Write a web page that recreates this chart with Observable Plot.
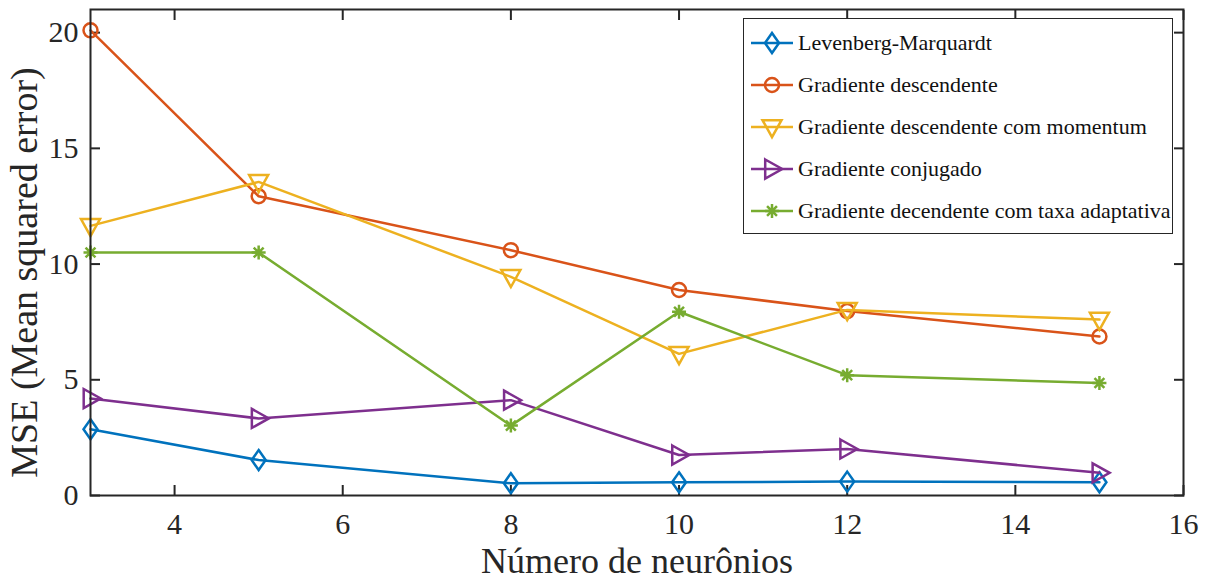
<!DOCTYPE html>
<html>
<head>
<meta charset="utf-8">
<script src="https://cdn.jsdelivr.net/npm/d3@7"></script>
<script src="https://cdn.jsdelivr.net/npm/@observablehq/plot@0.6"></script>
<style>
  html, body { margin: 0; padding: 0; background: #fff; }
  #chart { width: 1208px; height: 583px; }
</style>
</head>
<body>
<div id="chart"></div>
<script>
// ---- data ----
const neurons = [3, 5, 8, 10, 12, 15];
const seriesNames = [
  "Levenberg-Marquardt",
  "Gradiente descendente",
  "Gradiente descendente com momentum",
  "Gradiente conjugado",
  "Gradiente decendente com taxa adaptativa"
];
const mseLM   = [2.86, 1.53, 0.53, 0.57, 0.60, 0.57];
const mseGD   = [20.1, 12.93, 10.6, 8.88, 7.97, 6.87];
const mseGDM  = [11.65, 13.55, 9.45, 6.12, 8.02, 7.6];
const mseCG   = [4.19, 3.33, 4.12, 1.75, 2.01, 0.98];
const mseGDA  = [10.5, 10.5, 3.02, 7.94, 5.2, 4.86];
const xTicks = [4, 6, 8, 10, 12, 14, 16];
const yTicks = [0, 5, 10, 15, 20];

const seriesValues = [mseLM, mseGD, mseGDM, mseCG, mseGDA];
const colors = ["#0072BD", "#D95319", "#EDB120", "#7E2F8E", "#77AC30"];

// ---- marker symbols (MATLAB-like) ----
const R = 7;
const symRadius = size => Math.sqrt(size / Math.PI);
const diamond = {draw(ctx, size) { const s = symRadius(size) / R; const w = 7 * s, h = 10 * s;
  ctx.moveTo(0, -h); ctx.lineTo(w, 0); ctx.lineTo(0, h); ctx.lineTo(-w, 0); ctx.closePath(); }};
const circle = {draw(ctx, size) { const r = symRadius(size);
  ctx.moveTo(r, 0); ctx.arc(0, 0, r, 0, 2 * Math.PI); }};
const triDown = {draw(ctx, size) { const s = symRadius(size) / R; const w = 9.5 * s, h = 8.5 * s;
  ctx.moveTo(-w, -h * 0.8); ctx.lineTo(w, -h * 0.8); ctx.lineTo(0, h * 1.2); ctx.closePath(); }};
const triRight = {draw(ctx, size) { const s = symRadius(size) / R; const w = 8.5 * s, h = 9.5 * s;
  ctx.moveTo(-w * 0.8, -h); ctx.lineTo(w * 1.2, 0); ctx.lineTo(-w * 0.8, h); ctx.closePath(); }};
const asterisk = {draw(ctx, size) { const r = symRadius(size); const d = r * Math.SQRT1_2;
  ctx.moveTo(-r, 0); ctx.lineTo(r, 0); ctx.moveTo(0, -r); ctx.lineTo(0, r);
  ctx.moveTo(-d, -d); ctx.lineTo(d, d); ctx.moveTo(-d, d); ctx.lineTo(d, -d); }};
const symbols = [diamond, circle, triDown, triRight, asterisk];

// long table
const rows = [];
seriesNames.forEach((name, i) => {
  neurons.forEach((n, j) => rows.push({series: i, name, x: n, y: seriesValues[i][j]}));
});

const axisColor = "#262626";
const font = "'Liberation Serif', 'Times New Roman', serif";
const LW = 2.5;

const lineMarks = [];
seriesNames.forEach((name, i) => {
  const d = rows.filter(r => r.series === i);
  lineMarks.push(Plot.line(d, {x: "x", y: "y", stroke: colors[i], strokeWidth: LW}));
  lineMarks.push(Plot.dot(d, {x: "x", y: "y", stroke: colors[i], strokeWidth: LW, fill: "none", r: R, symbol: () => symbols[i]}));
});

const chart = Plot.plot({
  width: 1208,
  height: 583,
  marginLeft: 90,
  marginRight: 25,
  marginTop: 9,
  marginBottom: 88,
  style: {fontFamily: font, background: "#fff", color: axisColor},
  x: {domain: [3, 16]},
  y: {domain: [0, 21]},
  marks: [
    // inward ticks on all four sides
    Plot.axisX({anchor: "bottom", ticks: xTicks, tickSize: -10, tickFormat: () => "", label: null, strokeWidth: 2, stroke: axisColor}),
    Plot.axisX({anchor: "top", ticks: xTicks, tickSize: -10, tickFormat: () => "", label: null, strokeWidth: 2, stroke: axisColor}),
    Plot.axisY({anchor: "left", ticks: yTicks, tickSize: -10, tickFormat: () => "", label: null, strokeWidth: 2, stroke: axisColor}),
    Plot.axisY({anchor: "right", ticks: yTicks, tickSize: -10, tickFormat: () => "", label: null, strokeWidth: 2, stroke: axisColor}),
    // tick labels
    Plot.axisX({anchor: "bottom", ticks: xTicks, tickSize: 0, tickPadding: 17, label: null, fontSize: 30, fill: axisColor}),
    Plot.axisY({anchor: "left", ticks: yTicks, tickSize: 0, tickPadding: 12, label: null, fontSize: 30, fill: axisColor}),
    ...lineMarks,
    Plot.frame({stroke: axisColor, strokeWidth: 2}),
    // axis titles
    Plot.text(["Número de neurônios"], {frameAnchor: "bottom", dy: 66, lineAnchor: "middle", textAnchor: "middle", fontSize: 36, fill: axisColor}),
    Plot.text(["MSE (Mean squared error)"], {frameAnchor: "left", dx: -66, dy: 20, rotate: -90, lineAnchor: "middle", textAnchor: "middle", fontSize: 38, fill: axisColor})
  ]
});

document.getElementById("chart").appendChild(chart);

// ---- legend (inside the axes, top-right) ----
const svg = d3.select(chart);
const lg = svg.append("g").attr("font-family", font).attr("font-size", 22).attr("text-anchor", "start");
lg.append("rect").attr("x", 743.5).attr("y", 18.5).attr("width", 429).attr("height", 215)
  .attr("fill", "#fff").attr("stroke", axisColor).attr("stroke-width", 1);
seriesNames.forEach((name, i) => {
  const cy = 43 + i * 42;
  lg.append("line").attr("x1", 751).attr("x2", 793).attr("y1", cy).attr("y2", cy)
    .attr("stroke", colors[i]).attr("stroke-width", LW);
  lg.append("path").attr("transform", `translate(772,${cy})`)
    .attr("d", d3.symbol(symbols[i], R * R * Math.PI)())
    .attr("fill", "none").attr("stroke", colors[i]).attr("stroke-width", LW);
  lg.append("text").attr("x", 798).attr("y", cy).attr("dy", "0.32em")
    .attr("fill", "#111").attr("text-anchor", "start").text(name);
});
</script>
</body>
</html>
